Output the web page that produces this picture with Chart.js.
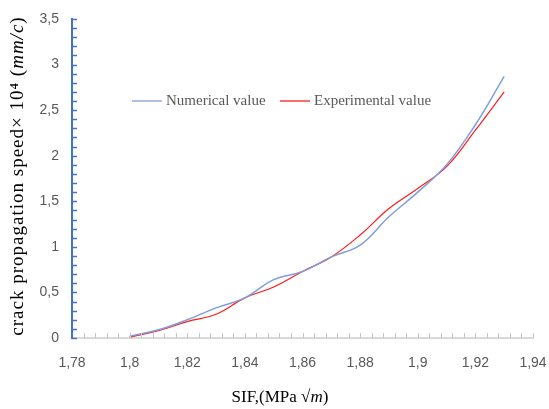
<!DOCTYPE html>
<html>
<head>
<meta charset="utf-8">
<script src="https://cdn.jsdelivr.net/npm/chart.js@4.4.1/dist/chart.umd.min.js"></script>
<style>
  body { margin: 0; background: #fff; }
</style>
</head>
<body>
<canvas id="chart__sif-canvas" width="549" height="409"></canvas>
<script>
const chartSif = document.getElementById("chart__sif-canvas");

// SIF values (MPa sqrt m)
const sif = [1.8, 1.81, 1.82, 1.83, 1.84, 1.85, 1.86, 1.87, 1.88, 1.89, 1.9, 1.91, 1.92, 1.93];
// crack propagation speed x 10^4 (mm/c)
const numerical = [0.02, 0.09, 0.2, 0.33, 0.44, 0.64, 0.73, 0.89, 1.02, 1.33, 1.6, 1.9, 2.34, 2.87];
const experimental = [0.01, 0.08, 0.18, 0.26, 0.44, 0.56, 0.73, 0.89, 1.13, 1.42, 1.64, 1.88, 2.28, 2.7];

const xTicks = [1.78, 1.8, 1.82, 1.84, 1.86, 1.88, 1.9, 1.92, 1.94];
const yTicks = [0, 0.5, 1, 1.5, 2, 2.5, 3, 3.5];

const seriesNames = ["Numerical value", "Experimental value"];
const seriesColors = ["#7f9fdc", "#ff1a1a"];

const commaLabel = (v) => String(+v.toFixed(2)).replace(".", ",");
const serif = "'Liberation Serif', 'Times New Roman', serif";

// draws a line of text made of pieces in different fonts
function drawPieces(ctx, pieces, x, y) {
  let total = 0;
  pieces.forEach((p) => {
    ctx.font = p.font;
    total += ctx.measureText(p.text).width;
  });
  let cx = x - total / 2;
  pieces.forEach((p) => {
    ctx.font = p.font;
    ctx.fillText(p.text, cx, y);
    cx += ctx.measureText(p.text).width;
  });
}

const extras = {
  id: "extras",
  afterDraw(chart) {
    const ctx = chart.ctx;
    const { left, bottom } = chart.chartArea;
    const xs = chart.scales.x;
    const ys = chart.scales.y;
    ctx.save();

    // small ticks on the y axis (inside)
    ctx.strokeStyle = "#4472c4";
    ctx.lineWidth = 1.5;
    for (let i = 0; i <= 35; i++) {
      const py = Math.round(ys.getPixelForValue(i / 10)) + 0.5;
      ctx.beginPath();
      ctx.moveTo(left, py);
      ctx.lineTo(left + 5, py);
      ctx.stroke();
    }

    // small ticks on the x axis (inside)
    ctx.strokeStyle = "#c8c8c8";
    ctx.lineWidth = 1;
    for (let i = 1; i <= 40; i++) {
      const px = Math.round(xs.getPixelForValue(1.78 + i * 0.004)) + 0.5;
      ctx.beginPath();
      ctx.moveTo(px, bottom);
      ctx.lineTo(px, bottom - 5);
      ctx.stroke();
    }

    // legend inside plot
    ctx.textBaseline = "middle";
    ctx.textAlign = "left";
    const legendY = 101;
    const legendX = [132, 280];
    seriesNames.forEach((name, i) => {
      ctx.strokeStyle = seriesColors[i];
      ctx.lineWidth = 1.3;
      ctx.beginPath();
      ctx.moveTo(legendX[i], legendY);
      ctx.lineTo(legendX[i] + 30, legendY);
      ctx.stroke();
      ctx.fillStyle = "#595959";
      ctx.font = "15px " + serif;
      ctx.fillText(name, legendX[i] + 34, legendY);
    });

    // axis titles
    ctx.fillStyle = "#000";
    ctx.textAlign = "left";
    ctx.textBaseline = "middle";
    drawPieces(ctx, [
      { text: "SIF,(MPa \u221A", font: "17px " + serif },
      { text: "m", font: "italic 17px " + serif },
      { text: ")", font: "17px " + serif },
    ], 280, 398);

    ctx.translate(18, 176);
    ctx.rotate(-Math.PI / 2);
    ctx.letterSpacing = "1px";
    drawPieces(ctx, [
      { text: "crack propagation speed\u00D7 10\u2074 (", font: "19px " + serif },
      { text: "mm/c", font: "italic 19px " + serif },
      { text: ")", font: "19px " + serif },
    ], 0, 0);
    ctx.restore();
  },
};

new Chart(chartSif, {
  type: "line",
  data: {
    datasets: [
      {
        label: seriesNames[0],
        data: sif.map((x, i) => ({ x: x, y: numerical[i] })),
        borderColor: seriesColors[0],
        borderWidth: 1.5,
        pointRadius: 0,
        tension: 0.4,
        fill: false,
      },
      {
        label: seriesNames[1],
        data: sif.map((x, i) => ({ x: x, y: experimental[i] })),
        borderColor: seriesColors[1],
        borderWidth: 1.2,
        pointRadius: 0,
        tension: 0.4,
        fill: false,
      },
    ],
  },
  options: {
    responsive: false,
    animation: false,
    layout: { padding: { top: 19, right: 16, left: 0, bottom: 0 } },
    plugins: {
      legend: { display: false },
      tooltip: { enabled: false },
    },
    scales: {
      x: {
        type: "linear",
        min: 1.78,
        max: 1.94,
        afterBuildTicks: (scale) => {
          scale.ticks = xTicks.map((v) => ({ value: v }));
        },
        afterFit: (scale) => {
          scale.height = 71;
          scale.paddingLeft = 0;
          scale.paddingRight = 0;
        },
        grid: { display: false, drawTicks: false },
        border: { display: true, color: "#d9d9d9", width: 2 },
        ticks: {
          padding: 17,
          color: "#595959",
          font: { family: "'Liberation Sans Narrow', 'Liberation Sans', sans-serif", size: 14 },
          callback: (v) => commaLabel(v),
        },
      },
      y: {
        min: 0,
        max: 3.5,
        afterBuildTicks: (scale) => {
          scale.ticks = yTicks.map((v) => ({ value: v }));
        },
        afterFit: (scale) => {
          scale.width = 72;
          scale.paddingTop = 0;
          scale.paddingBottom = 0;
        },
        grid: { display: false, drawTicks: false },
        border: { display: true, color: "#4472c4", width: 2 },
        ticks: {
          padding: 13,
          color: "#595959",
          font: { family: "'Liberation Sans Narrow', 'Liberation Sans', sans-serif", size: 14 },
          callback: (v) => commaLabel(v),
        },
      },
    },
  },
  plugins: [extras],
});
</script>
</body>
</html>
